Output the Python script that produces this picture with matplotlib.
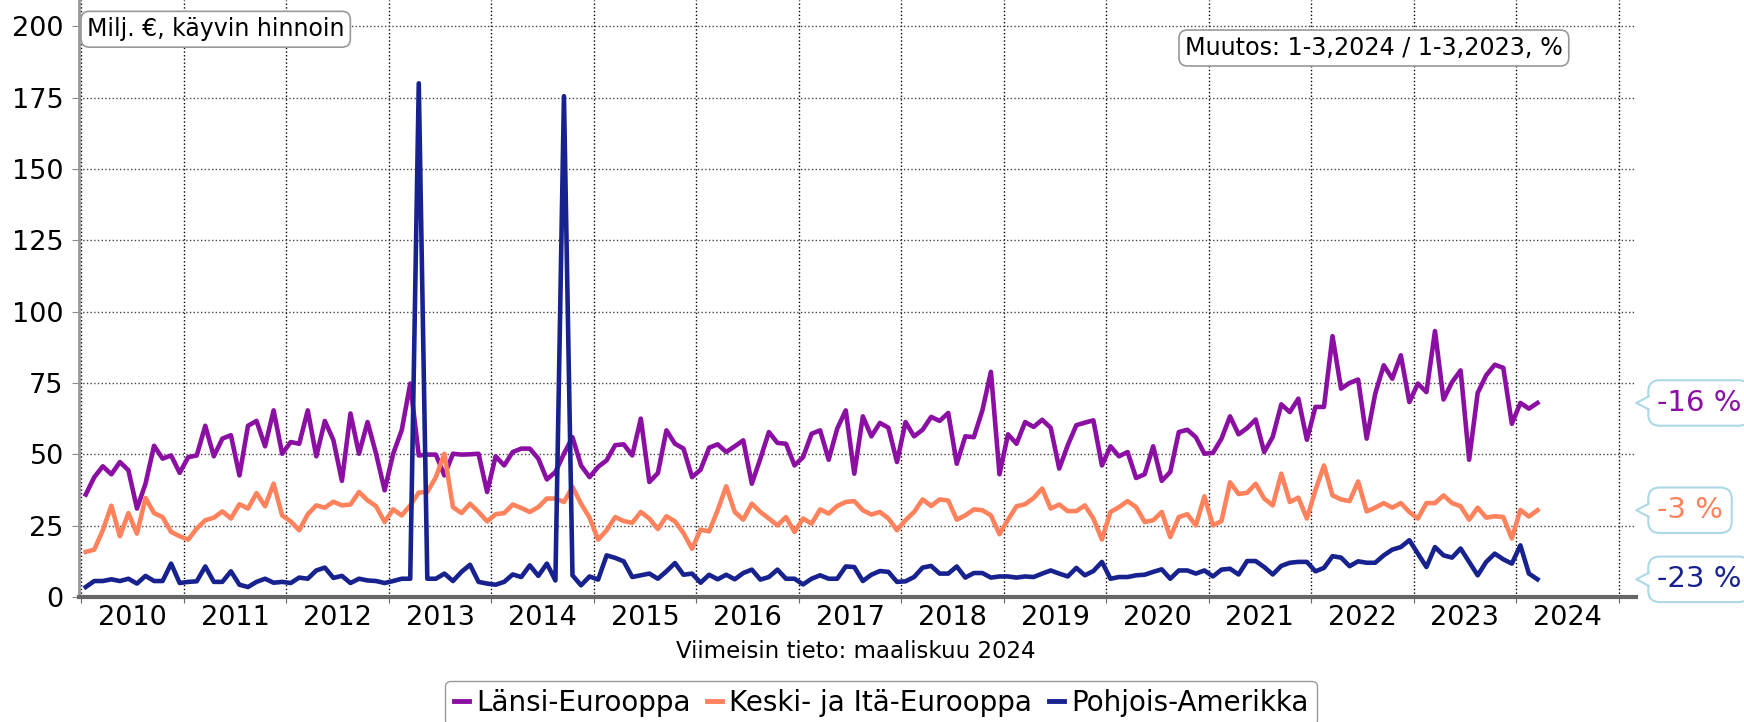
import numpy as np
import matplotlib
matplotlib.use("Agg")
import matplotlib.pyplot as plt
from matplotlib.lines import Line2D
from matplotlib.patches import Polygon
from matplotlib.transforms import IdentityTransform

# monthly values, Jan 2010 - Mar 2024 (milj. €)
lansi = [35.9, 42, 45.8, 43, 47.3, 44.4, 31, 39.7, 53, 48.5, 49.6, 43.5,
         49, 49.6, 60, 49.3, 55.5, 56.7, 42.6, 60, 61.7, 52.8, 65.4, 50.2,
         54.3, 53.7, 65.4, 49.3, 61.7, 55, 40.7, 64.3, 50.2, 61.3, 50.2, 37.4,
         50.2, 58.4, 74.8, 49.6, 49.9, 49.9, 42.6, 50.2, 49.9, 50, 50.2, 36.8,
         49.3, 46.1, 50.8, 52, 52, 48.5, 41.2, 43.8, 50.2, 56, 46.1, 42,
         45.6, 47.9, 53.2, 53.5, 49.6, 62.5, 40.3, 43.4, 58.4, 53.7, 52, 42,
         44.6, 52.3, 53.5, 50.8, 52.8, 54.9, 39.7, 48.5, 57.8, 54, 53.7, 46.1,
         49, 57.2, 58.4, 48.1, 59, 65.4, 43.2, 63.3, 56.3, 61, 59.3, 47.3,
         61.3, 56.3, 58.6, 63.1, 61.7, 64.5, 46.7, 56.3, 56, 65.4, 78.9, 43,
         57, 53.7, 61.3, 59.6, 62.1, 59.3, 45, 53.2, 60.2, 61.1, 61.9, 46.1,
         52.8, 49.3, 50.8, 41.7, 43, 52.8, 40.7, 43.8, 57.8, 58.6, 56, 50.2,
         50.5, 55.5, 63.3, 57, 59.2, 62.2, 50.8, 56.1, 67.5, 64.8, 69.5, 55.1,
         66.6, 66.6, 91.4, 73, 75, 76.2, 55.5, 71.2, 81.2, 76.5, 84.7, 68.3,
         74.8, 71.8, 93.2, 69.2, 75.3, 79.4, 48.1, 71.5, 77.7, 81.4, 80.3, 60.7,
         68, 66, 68]
keski = [15.8, 16.6, 23.4, 32, 21.3, 29.4, 22.2, 34.7, 29.4, 28, 22.8, 21.3,
         20.1, 24, 26.9, 27.8, 30, 27.5, 32.5, 31, 36.4, 31.8, 39.7, 28.6,
         26.5, 23.4, 29, 32.1, 31.3, 33.4, 32.1, 32.4, 36.8, 33.9, 31.8, 26.3,
         30.7, 28.6, 32.1, 36.6, 36.8, 42, 50.2, 31.5, 29.4, 32.7, 29.8, 26.5,
         29, 29.4, 32.4, 31.2, 29.8, 31.5, 34.5, 34.5, 33.3, 38.6, 32.7, 27.8,
         20.1, 23.4, 28, 26.6, 26, 29.8, 27.5, 23.8, 28.3, 26.5, 22.4, 16.9,
         23.6, 23, 30.4, 38.8, 29.8, 27.1, 32.7, 29.8, 27.5, 25.1, 28, 22.8,
         27.5, 25.7, 30.7, 29.2, 31.9, 33.3, 33.6, 30.4, 28.9, 29.8, 27.5, 23.4,
         26.9, 29.8, 34.2, 31.9, 34.2, 33.8, 27.1, 28.6, 30.7, 30.4, 28.6, 22,
         27.1, 31.8, 32.5, 34.7, 38, 31, 32.4, 30.1, 30.1, 32.1, 27.5, 20.1,
         29.8, 31.5, 33.6, 31.5, 26.3, 26.9, 29.8, 21, 28, 29, 25.1, 35.3,
         25.1, 26.6, 40.2, 36.1, 36.5, 39.7, 34.5, 32.1, 43.2, 33.3, 34.8, 27.5,
         37.4, 46.1, 35.6, 34.2, 33.6, 40.5, 30, 31.3, 32.9, 31.3, 32.9, 29.8,
         27.5, 32.9, 32.9, 35.6, 32.9, 31.8, 27.1, 31.3, 27.8, 28.3, 28, 20.5,
         30.5, 28.2, 30.4]
pohjois = [3.5, 5.6, 5.6, 6.2, 5.6, 6.4, 4.7, 7.4, 5.6, 5.6, 11.7, 4.9,
           5.3, 5.5, 10.7, 5.3, 5.3, 9, 4.3, 3.5, 5.3, 6.4, 5, 5.3,
           4.9, 6.8, 6.4, 9.3, 10.3, 6.7, 7.4, 4.9, 6.4, 5.8, 5.6, 4.9,
           5.6, 6.4, 6.4, 180, 6.4, 6.4, 8.2, 5.6, 8.8, 11.3, 5.3, 4.7,
           4.3, 5.3, 7.9, 7, 11.1, 7.4, 11.7, 5.8, 175.5, 7.6, 4.1, 7.2,
           6.1, 14.6, 13.7, 12.5, 7, 7.6, 8.2, 6.4, 9, 11.9, 7.8, 8.2,
           5, 7.8, 6.2, 7.8, 6.2, 8.4, 9.6, 6.1, 7, 9.6, 6.4, 6.4,
           4.4, 6.4, 7.6, 6.4, 6.4, 10.7, 10.5, 5.6, 7.8, 9.1, 8.8, 5.3,
           5.5, 7, 10.3, 10.9, 8.2, 8.2, 10.7, 6.8, 8.4, 8.4, 6.8, 7.2,
           7.2, 6.8, 7.2, 7, 8.2, 9.3, 8.2, 7.2, 10.2, 7.6, 9.1, 12.3,
           6.4, 7, 7, 7.6, 7.8, 8.8, 9.7, 6.4, 9.3, 9.3, 8.2, 9.3,
           7.2, 9.6, 9.9, 7.9, 12.6, 12.6, 10.5, 7.9, 10.9, 12, 12.3, 12.3,
           9, 10.2, 14.3, 13.8, 10.8, 12.5, 12, 12, 14.6, 16.6, 17.5, 19.9,
           15.2, 10.5, 17.5, 14.6, 13.8, 17, 12.3, 7.6, 12.3, 15.2, 13.2, 11.7,
           18.1, 8.2, 6.2]

names = ["Länsi-Eurooppa", "Keski- ja Itä-Eurooppa", "Pohjois-Amerikka"]
changes = [-16, -3, -23]
colors = ["#8b0fa3", "#ff825c", "#17228f"]
years = list(range(2010, 2025))

W, H = 1744, 722
fig = plt.figure(figsize=(W / 100, H / 100), dpi=100)
ax = fig.add_axes([79 / W, 125 / H, (1636 - 79) / W, 597 / H])

series = [lansi, keski, pohjois]
x = 2010 + (np.arange(len(lansi)) + 0.5) / 12
for s, c in zip(series, colors):
    ax.plot(x, s, color=c, lw=3.3)

ax.set_xlim(2009.976, 2025.17)
ax.set_ylim(0, 209.2)
ax.set_yticks(range(0, 201, 25))
ax.set_xticks(range(2010, 2026))
ax.set_xticklabels([])
ax.set_xticks([y + 0.5 for y in years], minor=True)
ax.set_xticklabels([str(y) for y in years], minor=True)
ax.tick_params(axis="x", which="minor", length=0, labelsize=19.5, pad=6)
ax.tick_params(axis="x", which="major", length=4, color="#666")
ax.tick_params(axis="y", length=5, color="#888", labelsize=19.5, pad=6)
ax.grid(axis="x", which="major", linestyle=":", color="black", lw=1)
ax.grid(axis="y", which="major", linestyle=":", color="#444", lw=1)
for sp in ["top", "right"]:
    ax.spines[sp].set_visible(False)
ax.spines["left"].set_color("#999")
ax.spines["left"].set_linewidth(2)
ax.spines["bottom"].set_color("#666")
ax.spines["bottom"].set_linewidth(3)

box = dict(boxstyle="round,pad=0.25,rounding_size=0.35", fc="white", ec="#999", lw=1.2)
ax.text(0.0051, 0.951, "Milj. €, käyvin hinnoin", transform=ax.transAxes,
        fontsize=17, ha="left", va="center", bbox=box)
ax.text(0.7103, 0.9196, "Muutos: 1-3,2024 / 1-3,2023, %", transform=ax.transAxes,
        fontsize=17.2, ha="left", va="center", bbox=box)

fig.text(856 / W, 1 - 651 / H, "Viimeisin tieto: maaliskuu 2024", ha="center", va="center", fontsize=16.5)

handles = [Line2D([], [], color=c, lw=3.5) for c in colors]
fig.legend(handles, names, loc="center", bbox_to_anchor=(881 / W, 1 - 703 / H), ncol=3,
           fontsize=20, handlelength=0.55, handletextpad=0.25, columnspacing=0.6,
           borderpad=0.3, fancybox=True, edgecolor="#999", framealpha=1)

# callouts at the right
labels = []
for s, c, ch in zip(series, colors, changes):
    ypx = ax.transData.transform((2020, s[-1]))[1]
    t = fig.text(1657 / W, ypx / H, f"{ch} %", color=c, fontsize=21, ha="left", va="center",
                 bbox=dict(boxstyle="round,pad=0.3,rounding_size=0.4", fc="white", ec="#add8e6", lw=1.5))
    labels.append((t, ypx))

fig.canvas.draw()
r = fig.canvas.get_renderer()
for t, ypx in labels:
    bb = t.get_bbox_patch().get_window_extent(r)
    x0 = bb.x0
    tip = x0 - 12
    fig.add_artist(Polygon([[tip, ypx], [x0 + 2, ypx + 6.5], [x0 + 2, ypx - 6.5]], closed=True,
                           fc="white", ec="none", transform=IdentityTransform(), zorder=10))
    fig.add_artist(Line2D([x0 + 0.5, tip, x0 + 0.5], [ypx + 6.5, ypx, ypx - 6.5], color="#add8e6",
                          lw=1.5, transform=IdentityTransform(), zorder=11))

fig.savefig("out.png", dpi=100)
